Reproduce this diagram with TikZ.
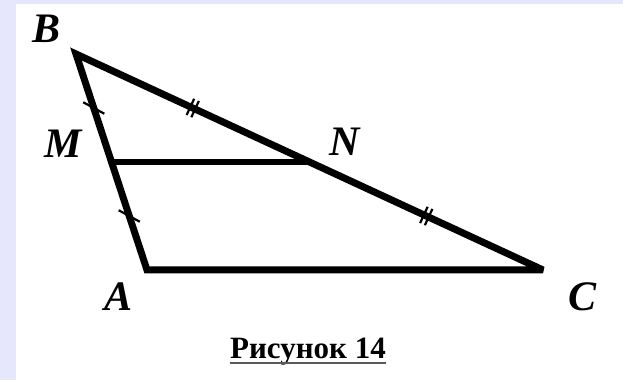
\documentclass[tikz,border=0pt]{standalone}
\usepackage{fontspec}
\setmainfont{Liberation Serif}
\usetikzlibrary{calc}
\definecolor{slidebg}{RGB}{230,230,253}
\definecolor{rulegray}{RGB}{90,90,90}

\begin{document}
\begin{tikzpicture}[x=1pt,y=1pt,
    side/.style={line width=7pt,line join=miter,miter limit=4},
    midline/.style={line width=6.5pt},
    tickline/.style={line width=2.2pt},
    lbl/.style={inner sep=0pt,font=\fontsize{42}{42}\selectfont\bfseries\itshape},
    caption/.style={inner sep=0pt,font=\fontsize{31}{31}\selectfont\bfseries}]
  % slide background
  \fill[slidebg] (0,0) rectangle (623,380);
  \fill[white] (16,0) rectangle (623,376);
  \useasboundingbox (0,0) rectangle (623,380);
  % vertices
  \coordinate (B) at (76,326);
  \coordinate (A) at (147,110);
  \coordinate (C) at (543,110);
  \coordinate (M) at ($(A)!.5!(B)$);
  \coordinate (N) at ($(B)!.5!(C)$);
  \draw[side] (A) -- (B) -- (C) -- cycle;
  \draw[midline] (M) -- (N);
  % equal segments
  \foreach \p in {0.25,0.75}{
    \draw[tickline] ($(B)!\p!(A)$) ++(-28.6:-12) -- ++(-28.6:24);
    \foreach \d in {-2.6,2.6}
      \draw[tickline] ($(B)!\p!(C)$) ++(-24.8:\d) ++(65.2:-9) -- ++(65.2:18);
  }
  % labels
  \node[lbl] (lB) at (46.5,351) {B};
  \node[lbl] (lM) at (63,236) {M};
  \node[lbl] (lN) at (345,238) {N};
  \node[lbl] (lA) at (119,83) {A};
  \node[lbl] (lC) at (582,83) {C};
  \node[caption,anchor=base] (cap) at (308,22) {Рисунок 14};
  \draw[rulegray,line width=1.3pt] ([yshift=-5pt]cap.base west) -- ([yshift=-5pt]cap.base east);
\end{tikzpicture}
\end{document}
